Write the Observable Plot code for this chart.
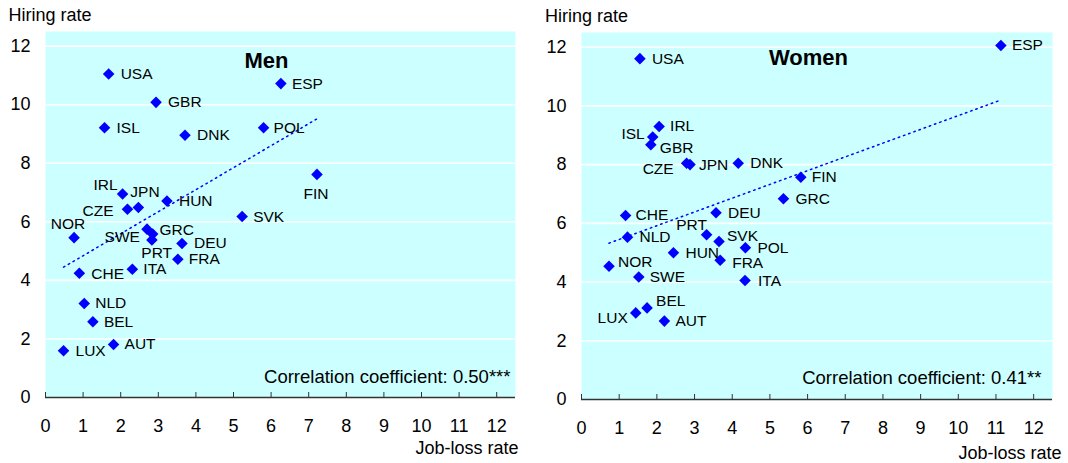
<!DOCTYPE html>
<html>
<head>
<meta charset="utf-8">
<script src="https://cdn.jsdelivr.net/npm/d3@7"></script>
<script src="https://cdn.jsdelivr.net/npm/@observablehq/plot@0.6"></script>
<style>
  html, body { margin: 0; padding: 0; background: #ffffff; }
  #wrap { display: flex; flex-direction: row; width: 1068px; height: 463px; }
  #wrap svg { display: block; }
</style>
</head>
<body>
<div id="wrap"></div>
<script>
// ---------- DATA ----------
const countries = ["USA","GBR","ISL","DNK","IRL","JPN","CZE","HUN","SVK","POL","ESP","FIN",
                   "NOR","GRC","PRT","SWE","DEU","FRA","ITA","CHE","NLD","BEL","AUT","LUX"];

const menJobLoss = [1.68, 2.94, 1.57, 3.71, 2.05, 2.47, 2.18, 3.23, 5.23, 5.80, 6.26, 7.22,
                    0.76, 2.70, 2.85, 2.83, 3.63, 3.52, 2.31, 0.90, 1.03, 1.26, 1.81, 0.48];
const menHiring  = [11.05, 10.08, 9.21, 8.96, 6.95, 6.49, 6.43, 6.71, 6.18, 9.21, 10.72, 7.62,
                    5.46, 5.75, 5.58, 5.38, 5.26, 4.72, 4.38, 4.24, 3.21, 2.59, 1.81, 1.60];

const womenJobLoss = [1.55, 1.84, 1.89, 4.16, 2.06, 2.88, 2.79, 2.44, 3.65, 4.35, 11.13, 5.82,
                      0.73, 5.36, 3.32, 1.52, 3.57, 3.68, 4.34, 1.17, 1.22, 1.74, 2.20, 1.44];
const womenHiring  = [11.61, 8.68, 8.94, 8.05, 9.30, 8.00, 8.05, 5.00, 5.38, 5.17, 12.06, 7.57,
                      4.54, 6.84, 5.61, 4.17, 6.36, 4.74, 4.05, 6.27, 5.53, 3.12, 2.67, 2.95];

const xTicks = [0,1,2,3,4,5,6,7,8,9,10,11,12];
const yTicks = [0,2,4,6,8,10,12];
const panelTitles = ["Men", "Women"];
const correlationTexts = ["Correlation coefficient: 0.50***", "Correlation coefficient: 0.41**"];
const yAxisTitle = "Hiring rate";
const xAxisTitle = "Job-loss rate";

// ---------- LABEL PLACEMENT (style) ----------
// [textAnchor, dx, dy]
const menLabelPos = {
  USA:["start",12,0], GBR:["start",12,0], ISL:["start",12,0], DNK:["start",12,0],
  IRL:["end",-5,-9], JPN:["start",-8,-15], CZE:["end",-14,2], HUN:["start",12,0],
  SVK:["start",11,0], POL:["start",10,0], ESP:["start",11,0], FIN:["middle",-1,20],
  NOR:["middle",-6,-14], GRC:["start",12.5,1], PRT:["middle",4,18.5], SWE:["end",-12,-3],
  DEU:["start",12,0], FRA:["start",11,0], ITA:["start",11,0], CHE:["start",12,1],
  NLD:["start",11,0], BEL:["start",11,0], AUT:["start",11,0], LUX:["start",12,0]
};
const womenLabelPos = {
  USA:["start",12,0], ESP:["start",11,0], IRL:["start",11,0], ISL:["end",-8,-3],
  GBR:["start",9,3], CZE:["end",-13,6], JPN:["start",9,0], DNK:["start",12,0],
  FIN:["start",11,0], GRC:["start",12,0], CHE:["start",10,0], DEU:["start",12,0],
  PRT:["middle",-15,-10], SVK:["start",8,-6], NLD:["start",12,0], HUN:["start",12,0],
  POL:["start",12,0], FRA:["start",12,3], NOR:["start",9,-4], SWE:["start",11,0],
  ITA:["start",13,0], BEL:["start",9,-7], LUX:["end",-8,5], AUT:["start",11,0]
};

const FONT = "'Liberation Sans', Arial, Helvetica, sans-serif";

function panel(opts) {
  const {jl, hr, title, corr, labelPos, m, titleDx, titleDy, corrDx, corrDy, yTitleDx, xTitleDx, xTitleDy} = opts;
  const W = 534, H = 463;
  const plotH = H - m.top - m.bottom;
  const data = countries.map((c, i) => ({country: c, x: jl[i], y: hr[i]}));

  const labelMarks = data.map(d => {
    const [anchor, dx, dy] = labelPos[d.country];
    return Plot.text([d], {x: "x", y: "y", text: "country", textAnchor: anchor, dx, dy,
                           fontSize: 15.5, fill: "#000"});
  });

  return Plot.plot({
    width: W, height: H,
    marginLeft: m.left, marginRight: m.right, marginTop: m.top, marginBottom: m.bottom,
    x: {domain: [0, 12.5]},
    y: {domain: [0, 12.5]},
    style: {fontFamily: FONT, color: "#000", background: "#ffffff", overflow: "visible"},
    marks: [
      Plot.frame({fill: "#ccffff", stroke: null}),
      Plot.ruleY(yTicks.filter(d => d > 0), {y: d => d, stroke: "#ffffff", strokeWidth: 1.6}),
      Plot.ruleY([0], {y: d => d, stroke: "#333333", strokeWidth: 1.5}),
      Plot.tickX(xTicks, {x: d => d, stroke: "#333333", strokeWidth: 1, insetTop: plotH - 5}),
      Plot.axisY(yTicks, {tickSize: 0, tickPadding: 15, fontSize: 18, label: null}),
      Plot.axisX(xTicks, {tickSize: 0, tickPadding: 22, fontSize: 18, label: null}),
      Plot.linearRegressionY(data, {x: "x", y: "y", stroke: "#0000ff", strokeWidth: 1.5,
                                    strokeDasharray: "1.5,4", ci: 0}),
      Plot.dot(data, {x: "x", y: "y", symbol: "diamond2", r: 5.2, fill: "#0000ff", stroke: null}),
      ...labelMarks,
      Plot.text([title], {text: d => d, frameAnchor: "top-left", dx: titleDx, dy: titleDy,
                          textAnchor: "middle", lineAnchor: "bottom", fontWeight: "bold", fontSize: 22}),
      Plot.text([corr], {text: d => d, frameAnchor: "bottom-right", dx: corrDx, dy: corrDy,
                         textAnchor: "end", lineAnchor: "bottom", fontSize: 18.5}),
      Plot.text([yAxisTitle], {text: d => d, frameAnchor: "top-left", dx: yTitleDx, dy: -10.5,
                               textAnchor: "start", lineAnchor: "bottom", fontSize: 18}),
      Plot.text([xAxisTitle], {text: d => d, frameAnchor: "bottom-right", dx: xTitleDx, dy: xTitleDy,
                               textAnchor: "end", lineAnchor: "bottom", fontSize: 18})
    ]
  });
}

const wrap = document.getElementById("wrap");
wrap.appendChild(panel({
  jl: menJobLoss, hr: menHiring, title: panelTitles[0], corr: correlationTexts[0],
  labelPos: menLabelPos, m: {left: 45, right: 19, top: 31, bottom: 66},
  titleDx: 221, titleDy: 36, corrDx: -5, corrDy: -15, yTitleDx: -37, xTitleDx: 3, xTitleDy: 56
}));
wrap.appendChild(panel({
  jl: womenJobLoss, hr: womenHiring, title: panelTitles[1], corr: correlationTexts[1],
  labelPos: womenLabelPos, m: {left: 47, right: 16, top: 32, bottom: 64},
  titleDx: 227, titleDy: 32.5, corrDx: -11, corrDy: -15.5, yTitleDx: -36.5, xTitleDx: 9, xTitleDy: 59
}));
</script>
</body>
</html>
